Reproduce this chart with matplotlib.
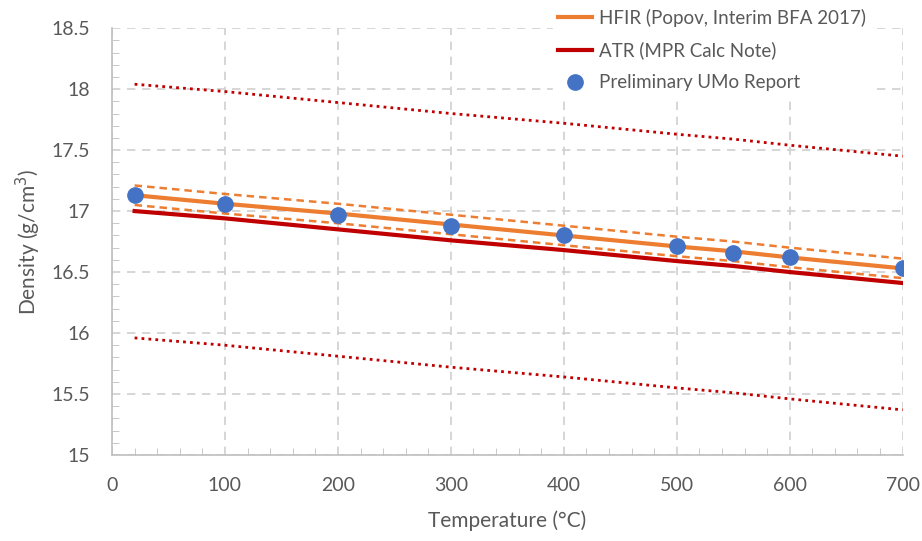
import matplotlib.pyplot as plt
from matplotlib.ticker import MultipleLocator

temps = [20, 100, 200, 300, 400, 500, 550, 600, 700]
umo_report = [17.13, 17.06, 16.97, 16.88, 16.80, 16.71, 16.66, 16.62, 16.53]
hfir = [17.13, 17.06, 16.98, 16.89, 16.80, 16.71, 16.67, 16.62, 16.53]
hfir_hi = [17.21, 17.14, 17.06, 16.97, 16.88, 16.79, 16.75, 16.70, 16.61]
hfir_lo = [17.05, 16.98, 16.90, 16.81, 16.72, 16.63, 16.59, 16.54, 16.45]
atr = [17.00, 16.94, 16.85, 16.76, 16.68, 16.59, 16.55, 16.50, 16.41]
atr_hi = [18.04, 17.98, 17.89, 17.80, 17.72, 17.63, 17.59, 17.54, 17.45]
atr_lo = [15.96, 15.90, 15.81, 15.72, 15.64, 15.55, 15.51, 15.46, 15.37]

plt.rcParams['font.family'] = ['Lato', 'DejaVu Sans']
txt = '#595959'
orange = '#ed7d31'
red = '#c00000'
blue = '#4472c4'

fig = plt.figure(figsize=(9.22, 5.41), dpi=100)
ax = fig.add_axes([0.1215, 0.159, 0.8575, 0.789])

ax.plot(temps, hfir, color=orange, lw=3, label='HFIR (Popov, Interim BFA 2017)', zorder=3)
ax.plot(temps, hfir_hi, color=orange, lw=1.8, ls=(0, (3, 2)), zorder=3)
ax.plot(temps, hfir_lo, color=orange, lw=1.8, ls=(0, (3, 2)), zorder=3)
ax.plot(temps, atr, color=red, lw=3, label='ATR (MPR Calc Note)', zorder=3)
ax.plot(temps, atr_hi, color=red, lw=2, ls=(0, (1, 1.5)), zorder=3)
ax.plot(temps, atr_lo, color=red, lw=2, ls=(0, (1, 1.5)), zorder=3)
ax.plot(temps, umo_report, 'o', color=blue, ms=11, label='Preliminary UMo Report', zorder=4)

ax.set_xlim(0, 700)
ax.set_ylim(15, 18.5)
ax.xaxis.set_major_locator(MultipleLocator(100))
ax.xaxis.set_minor_locator(MultipleLocator(20))
ax.yaxis.set_minor_locator(MultipleLocator(0.1))
ax.set_yticks([15, 15.5, 16, 16.5, 17, 17.5, 18, 18.5])
ax.set_yticklabels(['15', '15.5', '16', '16.5', '17', '17.5', '18', '18.5'])

ax.grid(True, which='major', color='#d0d0d0', ls=(0, (5, 4)), lw=1.2)
for s in ['top', 'right']:
    ax.spines[s].set_visible(False)
for s in ['left', 'bottom']:
    ax.spines[s].set_color('#bfbfbf')
    ax.spines[s].set_linewidth(1.2)

ax.tick_params(which='major', length=0, labelsize=14, labelcolor=txt, pad=16)
ax.tick_params(which='minor', direction='in', length=5, color='#bfbfbf')

ax.set_xlabel('Temperature (°C)', fontsize=15, color=txt, labelpad=12)
ax.set_ylabel('Density (g/cm$^3$)', fontsize=15, color=txt, labelpad=6)

leg = ax.legend(loc='upper right', bbox_to_anchor=(0.955, 1.012), bbox_transform=fig.transFigure,
                fontsize=13.5, frameon=True, framealpha=1, edgecolor='white',
                handlelength=1.8, borderpad=0.3, labelspacing=0.8, handletextpad=0.35)
for t in leg.get_texts():
    t.set_color(txt)

fig.savefig('out.png', dpi=100)
